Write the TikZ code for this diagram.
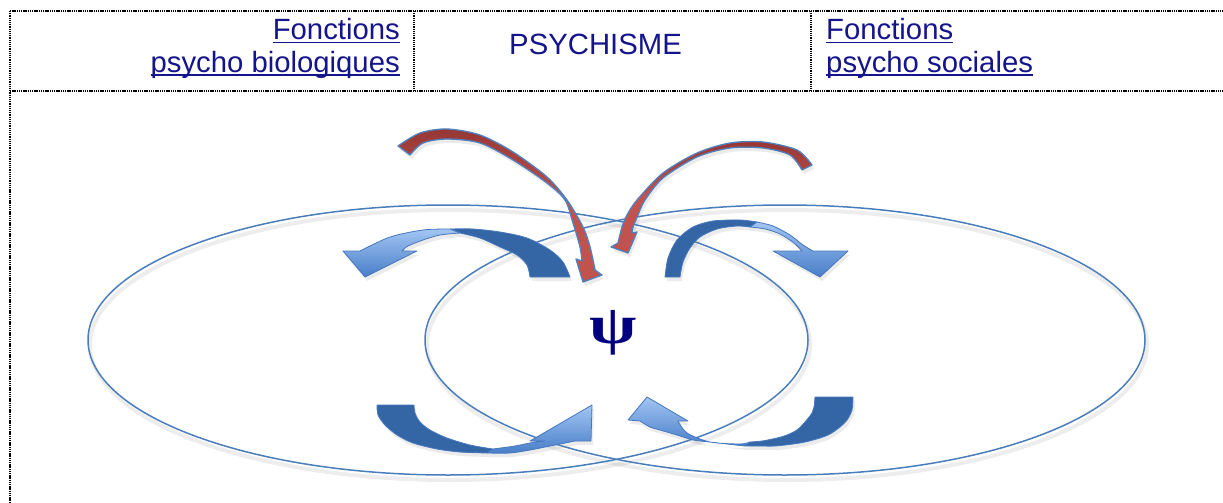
\documentclass[tikz,border=0pt]{standalone}
\usepackage{fontspec}
\setmainfont{Liberation Sans}
\newfontfamily\psifont{Liberation Serif}
\usetikzlibrary{shapes.geometric,shadows}
\definecolor{navytext}{RGB}{20,20,140}
\definecolor{psinavy}{RGB}{0,0,128}
\definecolor{ringblue}{RGB}{74,126,187}
\definecolor{bandblue}{RGB}{52,101,164}
\definecolor{lighttop}{RGB}{162,197,243}
\definecolor{lightbot}{RGB}{72,126,200}
\definecolor{edgeblue}{RGB}{70,120,190}
\definecolor{redtop}{RGB}{150,56,54}
\definecolor{redbot}{RGB}{194,82,78}
\definecolor{redge}{RGB}{79,129,189}
\newsavebox\ulbox
\newcommand\myul[1]{\sbox\ulbox{#1}\rlap{\rule[-3.5pt]{\wd\ulbox}{1.4pt}}\usebox\ulbox}
\begin{document}
\begin{tikzpicture}[x=1pt,y=-1pt,
  gridline/.style={black, line width=1.3pt, dash pattern=on 1.3pt off 0.9pt},
  ring/.style={draw=ringblue, line width=1.5pt, ellipse, minimum width=720pt, minimum height=270pt, inner sep=0pt},
  ringshadow/.style={draw=black, opacity=0.07, line width=4pt},
  shd/.style={drop shadow={opacity=0.16, shadow xshift=2pt, shadow yshift=-4pt}},
  darkband/.style={shd, fill=bandblue, draw=edgeblue, line width=0.8pt, line join=round},
  lightband/.style={shd, top color=lighttop, bottom color=lightbot, draw=edgeblue, line width=0.8pt, line join=round},
  redband/.style={shd, top color=redtop, bottom color=redbot, middle color=redbot, draw=redge, line width=1.3pt, line join=round},
  hdr/.style={font=\fontsize{29.3}{33}\selectfont, text=navytext, inner sep=0pt},
  psistyle/.style={text=psinavy, font=\psifont\bfseries\fontsize{55}{55}\selectfont, inner sep=0pt}
]
\useasboundingbox (0,0) rectangle (1223,503);
% header grid
\draw[gridline] (10,11) -- (1223,11);
\draw[gridline] (10,91) -- (1223,91);
\draw[gridline] (10,11) -- (10,503);
\draw[gridline] (414,11) -- (414,91);
\draw[gridline] (811,11) -- (811,91);
% header texts
\node[hdr, anchor=base east] (fb1) at (400,40) {\myul{Fonctions}};
\node[hdr, anchor=base east] (fb2) at (400,72) {\myul{psycho biologiques}};
\node[hdr, anchor=base] (psy) at (595.5,55) {PSYCHISME};
\node[hdr, anchor=base west] (fs1) at (826,40) {\myul{Fonctions}};
\node[hdr, anchor=base west] (fs2) at (826,72) {\myul{psycho sociales}};
% ellipses
\draw[ringshadow] (450,345) ellipse [x radius=360pt, y radius=135pt];
\draw[ringshadow] (787,345) ellipse [x radius=360pt, y radius=135pt];
\node[ring] (bio) at (448,340) {};
\node[ring] (soc) at (785,340) {};
% psi
\node[psistyle] (psi) at (613,333) {\scalebox{1.25}[1]{ψ}};
% red arrows
\path[redband] plot[smooth] coordinates {(398,146) (420,133) (447,129) (480,135) (513,152) (547,177) (567,200) (583,227) (590,247) (595,270)}
  -- (602,275) -- (583,282) -- (576,259)
  -- plot[smooth] coordinates {(582,261) (580,247) (573,223) (565,200) (547,183) (513,160) (480,143) (447,139) (423,143) (410,155)} -- cycle;
\path[redband] plot[smooth] coordinates {(812,165) (797,150) (763,142) (730,143) (697,153) (663,173) (637,200) (627,215) (622,227) (618,243)}
  -- (611,247) -- (628,253) -- (637,232)
  -- plot[smooth] coordinates {(632,233) (633,227) (638,215) (645,200) (663,178) (697,157) (730,148) (763,148) (790,155) (802,170)} -- cycle;
% arrow A (top left)
\path[darkband] plot[smooth] coordinates {(570,277) (563,262) (550,250) (527,238) (500,232) (473,229) (450,229)}
  -- plot[smooth] coordinates {(460,233) (480,238) (500,247) (517,255) (527,265) (530,277)} -- cycle;
\path[lightband] plot[smooth] coordinates {(450,229) (423,230) (390,237) (360,251)}
  -- (343,251) -- (365,277) -- (417,251)
  -- plot[smooth] coordinates {(402,251) (408,246) (423,240) (440,235) (460,233)} -- cycle;
% arrow B (top right)
\path[darkband] plot[smooth] coordinates {(665,277) (668,258) (677,240) (693,227) (713,221) (740,220) (757,222)}
  -- plot[smooth] coordinates {(750,227) (737,226) (717,229) (700,237) (690,248) (683,262) (680,277)} -- cycle;
\path[lightband] plot[smooth] coordinates {(757,222) (773,226) (790,235) (803,245) (813,251)}
  -- (848,251) -- (820,277) -- (773,251)
  -- plot[smooth] coordinates {(802,251) (794,243) (780,234) (765,229) (750,227)} -- cycle;
% arrow C (bottom left)
\path[darkband] plot[smooth] coordinates {(377,405) (378,415) (385,425) (397,435) (413,443) (437,449) (460,452) (487,453)}
  -- plot[smooth] coordinates {(493,449) (470,445) (447,438) (430,430) (420,422) (415,413) (414,405)} -- cycle;
\path[lightband] plot[smooth] coordinates {(487,453) (510,453) (530,450) (550,446) (565,443) (575,441)}
  -- (591,441) -- (592,405) -- (530,441)
  -- plot[smooth] coordinates {(545,441) (530,443) (515,446) (493,449)} -- cycle;
% arrow D (bottom right)
\path[darkband] plot[smooth] coordinates {(853,397) (852,410) (847,420) (840,427) (830,434) (820,438) (805,442) (793,444) (775,446) (760,446) (745,446)}
  -- plot[smooth] coordinates {(750,442) (762,441) (777,438) (787,435) (797,430) (805,422) (812,413) (814,407) (815,397)} -- cycle;
\path[lightband] plot[smooth] coordinates {(745,446) (727,444) (710,442) (693,440) (677,435) (660,430) (650,427) (640,421)}
  -- (628,420) -- (647,397) -- (688,421)
  -- plot[smooth] coordinates {(678,421) (687,433) (710,442) (740,444) (750,442)} -- cycle;
\end{tikzpicture}
\end{document}
